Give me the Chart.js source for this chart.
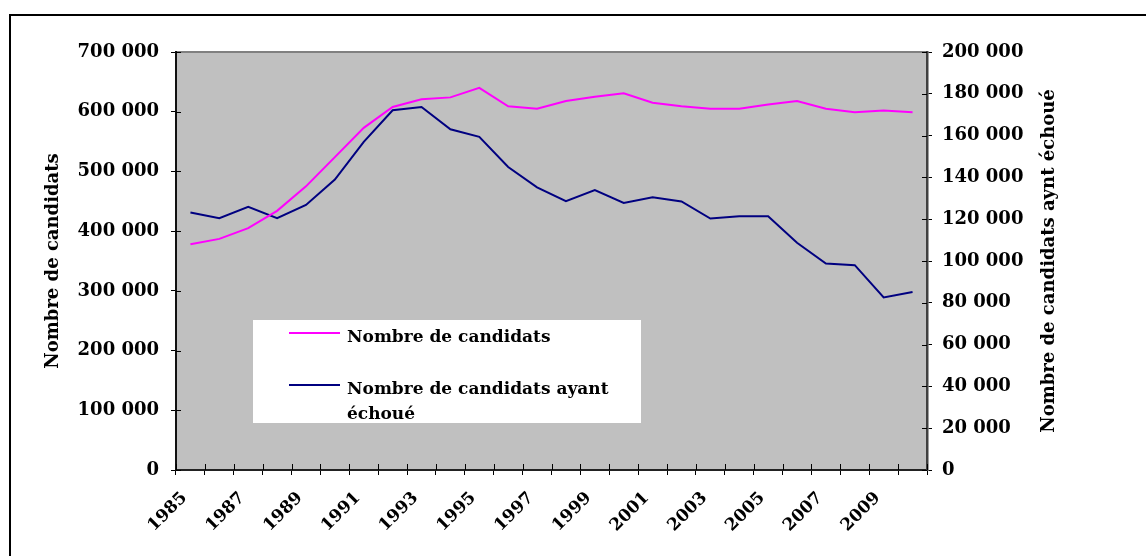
<!DOCTYPE html>
<html>
<head>
<meta charset="utf-8">
<script src="https://cdn.jsdelivr.net/npm/chart.js@4/dist/chart.umd.min.js"></script>
<style>
	body { margin: 0; background: #fff; }
	canvas { display: block; }
</style>
</head>
<body>
<canvas id="chart" width="1146" height="556"></canvas>
<script>
const years = ['1985', '1986', '1987', '1988', '1989', '1990', '1991', '1992', '1993', '1994', '1995', '1996', '1997',
	'1998', '1999', '2000', '2001', '2002', '2003', '2004', '2005', '2006', '2007', '2008', '2009', '2010'];

const candidats = [378000, 387000, 405000, 434000, 475000, 524000, 573000, 608000, 621000, 624000, 640000, 609000, 605000,
	618000, 625000, 631000, 615000, 609000, 605000, 605000, 612000, 618000, 605000, 599000, 602000, 599000];

const echoues = [123200, 120500, 125900, 120500, 126800, 139000, 157000, 172100, 173700, 163000, 159400, 145000, 135200,
	128600, 133900, 127800, 130500, 128500, 120300, 121400, 121400, 108700, 98800, 98000, 82600, 85200];

const leftMax = 700000, leftStep = 100000;
const rightMax = 200000, rightStep = 20000;

const labelCandidats = 'Nombre de candidats';
const labelEchoues = 'Nombre de candidats ayant échoué';
const titleLeft = 'Nombre de candidats';
const titleRight = 'Nombre de candidats aynt échoué';

const FONT = '"DejaVu Serif", serif';

function spaced(v) {
	return String(v).replace(/\B(?=(\d{3})+(?!\d))/g, ' ');
}

// white page, outer frame and grey plot area
const frame = {
	id: 'frame',
	beforeDraw(chart) {
		const {ctx, chartArea: a} = chart;
		ctx.save();
		ctx.fillStyle = '#fff';
		ctx.fillRect(0, 0, chart.width, chart.height);
		ctx.strokeStyle = '#000';
		ctx.lineWidth = 2;
		ctx.strokeRect(10, 15, chart.width, chart.height);
		ctx.fillStyle = '#c0c0c0';
		ctx.fillRect(a.left, a.top, a.right - a.left, a.bottom - a.top);
		ctx.strokeStyle = '#808080';
		ctx.strokeRect(a.left, a.top, a.right - a.left, a.bottom - a.top);
		ctx.restore();
	}
};

// excel style tick marks crossing into the plot
const innerTicks = {
	id: 'innerTicks',
	afterDatasetsDraw(chart) {
		const {ctx, chartArea: a, scales} = chart;
		ctx.save();
		ctx.strokeStyle = '#000';
		ctx.lineWidth = 1;
		ctx.beginPath();
		scales.y.ticks.forEach((t) => {
			const p = Math.round(scales.y.getPixelForValue(t.value)) + 0.5;
			ctx.moveTo(a.left, p);
			ctx.lineTo(a.left + 5, p);
		});
		scales.y1.ticks.forEach((t) => {
			const p = Math.round(scales.y1.getPixelForValue(t.value)) + 0.5;
			ctx.moveTo(a.right - 5, p);
			ctx.lineTo(a.right, p);
		});
		for (let i = 0; i <= years.length; i++) {
			const p = Math.round(scales.x.getPixelForValue(i - 0.5)) + 0.5;
			ctx.moveTo(p, a.bottom);
			ctx.lineTo(p, a.bottom - 6);
		}
		ctx.stroke();
		ctx.restore();
	}
};

// legend box inside the plot, with wrapped text
const boxLegend = {
	id: 'boxLegend',
	afterDatasetsDraw(chart) {
		const {ctx, chartArea: a} = chart;
		const x = a.left + 77, y = 320, w = 388, h = 103;
		ctx.save();
		ctx.fillStyle = '#fff';
		ctx.fillRect(x, y, w, h);
		ctx.font = 'bold 17px ' + FONT;
		ctx.textBaseline = 'alphabetic';
		ctx.textAlign = 'left';
		const textX = x + 94;
		const maxW = x + w - textX - 4;
		const rowY = [y + 13, y + 65];
		chart.data.datasets.forEach((ds, i) => {
			const ly = rowY[i];
			ctx.strokeStyle = ds.borderColor;
			ctx.lineWidth = 2;
			ctx.beginPath();
			ctx.moveTo(x + 36, ly);
			ctx.lineTo(x + 87, ly);
			ctx.stroke();
			let lines = [], cur = '';
			ds.label.split(' ').forEach((word) => {
				const test = cur ? cur + ' ' + word : word;
				if (cur && ctx.measureText(test).width > maxW) {
					lines.push(cur);
					cur = word;
				} else {
					cur = test;
				}
			});
			lines.push(cur);
			ctx.fillStyle = '#000';
			lines.forEach((line, j) => ctx.fillText(line, textX, ly + 9 + j * 25));
		});
		ctx.restore();
	}
};

// right axis title reads bottom to top like the left one
const rightTitle = {
	id: 'rightTitle',
	afterDraw(chart) {
		const {ctx, chartArea: a} = chart;
		ctx.save();
		ctx.translate(a.right + 122, (a.top + a.bottom) / 2);
		ctx.rotate(-Math.PI / 2);
		ctx.font = 'bold 18px ' + FONT;
		ctx.fillStyle = '#000';
		ctx.textAlign = 'center';
		ctx.textBaseline = 'middle';
		ctx.fillText(titleRight, 0, 0);
		ctx.restore();
	}
};

new Chart(document.getElementById('chart'), {
	type: 'line',
	data: {
		labels: years,
		datasets: [
			{
				label: labelCandidats,
				data: candidats,
				yAxisID: 'y',
				borderColor: '#ff00ff',
				borderWidth: 2,
				pointRadius: 0,
				tension: 0,
				fill: false
			},
			{
				label: labelEchoues,
				data: echoues,
				yAxisID: 'y1',
				borderColor: '#000080',
				borderWidth: 2,
				pointRadius: 0,
				tension: 0,
				fill: false
			}
		]
	},
	options: {
		responsive: false,
		animation: false,
		layout: {padding: {top: 52, left: 0, right: 0, bottom: 0}},
		plugins: {
			legend: {display: false},
			tooltip: {enabled: false}
		},
		scales: {
			x: {
				type: 'category',
				offset: true,
				grid: {offset: true, drawOnChartArea: false, tickLength: 5, color: '#000'},
				border: {display: true, color: '#222', width: 2},
				ticks: {
					autoSkip: false,
					minRotation: 45,
					maxRotation: 45,
					padding: 13,
					labelOffset: -6,
					color: '#000',
					font: {family: FONT, size: 17, weight: 'bold'},
					callback: (v, i) => (i % 2 === 0 ? years[i] : '')
				},
				afterFit: (s) => { s.height = 86; }
			},
			y: {
				position: 'left',
				min: 0,
				max: leftMax,
				grid: {drawOnChartArea: false, tickLength: 5, color: '#000'},
				border: {display: true, color: '#111', width: 2},
				ticks: {
					stepSize: leftStep,
					padding: 12,
					color: '#000',
					font: {family: FONT, size: 18, weight: 'bold'},
					callback: (v) => spaced(v)
				},
				title: {
					display: true,
					text: titleLeft,
					color: '#000',
					padding: {top: 43, bottom: 0},
					font: {family: FONT, size: 18, weight: 'bold'}
				},
				afterFit: (s) => { s.width = 176; }
			},
			y1: {
				position: 'right',
				min: 0,
				max: rightMax,
				grid: {drawOnChartArea: false, tickLength: 5, color: '#000'},
				border: {display: true, color: '#404040', width: 2.5},
				ticks: {
					stepSize: rightStep,
					padding: 10,
					color: '#000',
					font: {family: FONT, size: 18, weight: 'bold'},
					callback: (v) => spaced(v)
				},
				afterFit: (s) => { s.width = 219; }
			}
		}
	},
	plugins: [frame, innerTicks, boxLegend, rightTitle]
});
</script>
</body>
</html>
